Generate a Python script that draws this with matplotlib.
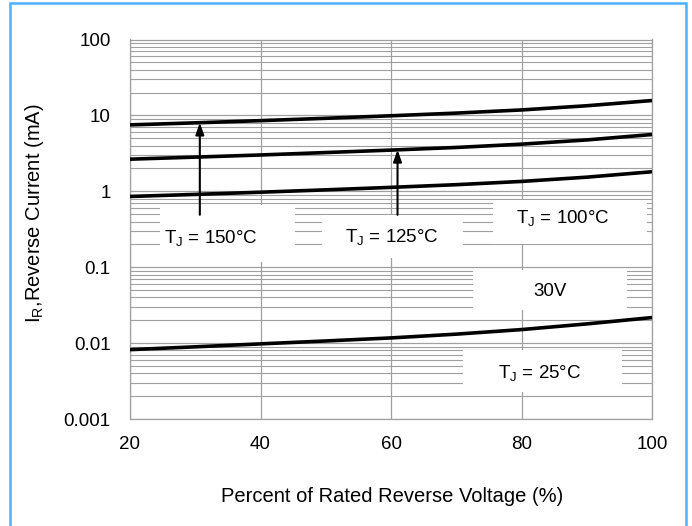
import numpy as np
import matplotlib
matplotlib.use("Agg")
import matplotlib.pyplot as plt
from matplotlib.patches import Rectangle
from matplotlib.ticker import FixedLocator, LogLocator, NullFormatter

plt.rcParams['font.family'] = ['Liberation Sans', 'DejaVu Sans']
plt.rcParams['mathtext.fontset'] = 'custom'
plt.rcParams['mathtext.rm'] = 'Liberation Sans'
plt.rcParams['mathtext.it'] = 'Liberation Sans'

# ---- data ----
pct = [20, 30, 40, 50, 60, 70, 80, 90, 100]
ir_150 = [7.50, 7.98, 8.53, 9.16, 9.89, 10.72, 11.80, 13.40, 15.70]
ir_125 = [2.65, 2.82, 3.01, 3.24, 3.49, 3.78, 4.18, 4.75, 5.60]
ir_100 = [0.855, 0.910, 0.973, 1.045, 1.127, 1.222, 1.349, 1.535, 1.81]
ir_25 = [0.0082, 0.00893, 0.00977, 0.01067, 0.0117, 0.01312, 0.01507, 0.0179, 0.0217]
x_ticks = [20, 40, 60, 80, 100]
y_ticks = [0.001, 0.01, 0.1, 1, 10, 100]
y_ticklabels = ['0.001', '0.01', '0.1', '1', '10', '100']

fig = plt.figure(figsize=(6.92, 5.26), dpi=100)
ax = fig.add_axes([130/692, 1-419/526, 522/692, 379.5/526])

grid_c = '#a0a0a0'
for s in ax.spines.values():
    s.set_color(grid_c)
    s.set_linewidth(0.9)

for series in (ir_150, ir_125, ir_100, ir_25):
    ax.plot(pct, series, color='black', lw=2.6, zorder=3, solid_capstyle='butt')

ax.set_yscale('log')
ax.set_xlim(20, 100)
ax.set_ylim(0.001, 100)
ax.xaxis.set_major_locator(FixedLocator(x_ticks))
ax.set_xticklabels([str(v) for v in x_ticks])
ax.set_yticks(y_ticks)
ax.set_yticklabels(y_ticklabels)
ax.yaxis.set_minor_locator(LogLocator(base=10, subs=np.arange(2, 10)))
ax.yaxis.set_minor_formatter(NullFormatter())
ax.tick_params(which='both', length=0, labelsize=13.5, colors='black')
ax.tick_params(axis='x', pad=12)
ax.tick_params(axis='y', pad=14)
ax.grid(which='major', axis='both', color=grid_c, lw=0.9, zorder=0.5)
ax.grid(which='minor', axis='y', color=grid_c, lw=0.8, zorder=0.5)
ax.set_axisbelow(True)

# white label boxes (axes fraction)
boxes = [(0.057, 0.414, 0.259, 0.150),
         (0.368, 0.424, 0.270, 0.114),
         (0.695, 0.461, 0.295, 0.116),
         (0.657, 0.287, 0.295, 0.106),
         (0.638, 0.071, 0.305, 0.111)]
for (bx, by, bw, bh) in boxes:
    ax.add_patch(Rectangle((bx, by), bw, bh, transform=ax.transAxes,
                           facecolor='white', edgecolor='none', zorder=1))

def curve_at(xv, series):
    return 10 ** np.interp(xv, pct, np.log10(series))

arrow_kw = dict(arrowstyle='-|>,head_length=0.7,head_width=0.25', color='black', lw=1.5,
                shrinkA=0, shrinkB=0)
ax.annotate('', xy=(30.7, curve_at(30.7, ir_150)), xytext=(30.7, 0.49),
            arrowprops=arrow_kw, zorder=3)
ax.annotate('', xy=(61.0, curve_at(61.0, ir_125)), xytext=(61.0, 0.49),
            arrowprops=arrow_kw, zorder=3)

lab_kw = dict(ha='center', va='center', fontsize=13.5, zorder=4)
ax.text(32.4, 0.244, r'T$_\mathregular{J}$ = 150°C', **lab_kw)
ax.text(60.2, 0.25, r'T$_\mathregular{J}$ = 125°C', **lab_kw)
ax.text(86.4, 0.45, r'T$_\mathregular{J}$ = 100°C', **lab_kw)
ax.text(84.4, 0.0476, '30V', **lab_kw)
ax.text(82.8, 0.0040, r'T$_\mathregular{J}$ = 25°C', **lab_kw)

fig.text(392/692, 1-497/526, 'Percent of Rated Reverse Voltage (%)', ha='center', va='center',
         fontsize=14.5)
fig.text(35/692, 1-213/526, r'I$_\mathregular{R}$,Reverse Current (mA)', ha='center', va='center',
         rotation=90, fontsize=14.5)

# blue frame
fig.patches.append(Rectangle((9.5/692, -0.05), (686-9.5)/692, 1.05 - 3.5/526,
                             transform=fig.transFigure, facecolor='none',
                             edgecolor='#4db0ff', lw=1.8, clip_on=False))

fig.savefig('out.png', dpi=100)
